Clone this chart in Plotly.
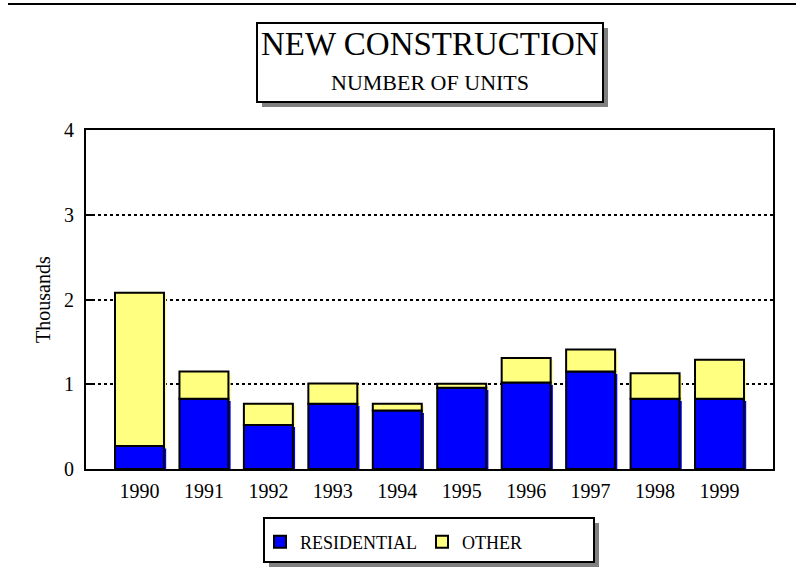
import plotly.graph_objects as go

years = ['1990', '1991', '1992', '1993', '1994', '1995', '1996', '1997', '1998', '1999']
residential = [0.27, 0.83, 0.52, 0.77, 0.69, 0.96, 1.02, 1.15, 0.83, 0.83]
other = [1.81, 0.32, 0.25, 0.24, 0.08, 0.045, 0.29, 0.26, 0.30, 0.46]
y_ticks = [0, 1, 2, 3, 4]

BLUE = '#0000ff'
YELLOW = '#ffff80'
FONT = 'Liberation Serif, Times New Roman, serif'

# plot area in pixels, used to place the boxes around the chart
L, R, T, B = 86, 773, 130, 469


def px_x(x):
    return (x - L) / (R - L)


def px_y(y):
    return (B - y) / (B - T)


fig = go.Figure()

# fill layer shifted a little right/down, gives the offset look of the old chart
shift = 2.2 / 64.5
fig.add_bar(x=years, y=residential, base=[-0.025] * len(years), offset=-0.38 + shift, width=0.76,
            marker=dict(color=BLUE, line=dict(width=0)), showlegend=False, hoverinfo='skip')
fig.add_bar(x=years, y=other, base=[r - 0.025 for r in residential], offset=-0.38 + shift, width=0.76,
            marker=dict(color=YELLOW, line=dict(width=0)), showlegend=False, hoverinfo='skip')

fig.add_bar(x=years, y=residential, base=[0] * len(years), offset=-0.38, width=0.76, name='RESIDENTIAL',
            marker=dict(color=BLUE, line=dict(color='black', width=2)))
fig.add_bar(x=years, y=other, base=residential, offset=-0.38, width=0.76, name='OTHER',
            marker=dict(color=YELLOW, line=dict(color='black', width=2)))

fig.update_layout(
    width=796, height=576,
    margin=dict(l=L, r=796 - R, t=T, b=576 - B, pad=0),
    barmode='overlay',
    paper_bgcolor='white',
    plot_bgcolor='white',
    font=dict(family=FONT, size=20, color='black'),
    legend=dict(orientation='h', x=px_x(260), y=px_y(542), xanchor='left', yanchor='middle',
                bgcolor='rgba(0,0,0,0)', font=dict(size=18), traceorder='normal'),
    showlegend=True,
)

fig.update_xaxes(type='category', range=[-0.83, 9.83], showline=True, mirror=True, linecolor='black',
                 linewidth=2, ticks='', showgrid=False, ticklabelstandoff=3, fixedrange=True)
fig.update_yaxes(range=[0, 4], tickvals=y_ticks, showline=True, mirror=True, linecolor='black', linewidth=2,
                 ticks='inside', ticklen=6, tickwidth=2, tickcolor='black', showgrid=True, gridcolor='black',
                 gridwidth=2, griddash='dot', zeroline=False, ticklabelstandoff=6, fixedrange=True)

shapes = [
    # rule across the top of the page
    dict(type='line', x0=px_x(8), x1=px_x(796), y0=px_y(4), y1=px_y(4), line=dict(color='black', width=2)),
    # title box with shadow
    dict(type='rect', x0=px_x(262), x1=px_x(608), y0=px_y(28), y1=px_y(107), fillcolor='#808080', line=dict(width=0)),
    dict(type='rect', x0=px_x(257), x1=px_x(603), y0=px_y(23), y1=px_y(102), fillcolor='white',
         line=dict(color='black', width=2)),
    # legend box with shadow
    dict(type='rect', x0=px_x(269), x1=px_x(599), y0=px_y(523), y1=px_y(567), fillcolor='#808080', line=dict(width=0)),
    dict(type='rect', x0=px_x(264), x1=px_x(594), y0=px_y(518), y1=px_y(562), fillcolor='white',
         line=dict(color='black', width=2)),
]
for s in shapes:
    s.update(xref='paper', yref='paper', layer='below')
fig.update_layout(shapes=shapes)

fig.add_annotation(text='NEW CONSTRUCTION', xref='paper', yref='paper', x=px_x(430), y=px_y(44),
                   showarrow=False, font=dict(size=33), xanchor='center', yanchor='middle')
fig.add_annotation(text='NUMBER OF UNITS', xref='paper', yref='paper', x=px_x(430), y=px_y(83),
                   showarrow=False, font=dict(size=22), xanchor='center', yanchor='middle')
fig.add_annotation(text='Thousands', xref='paper', yref='paper', x=px_x(43), y=px_y(300), textangle=-90,
                   showarrow=False, font=dict(size=20), xanchor='center', yanchor='middle')

# page body has a default margin, drop it so the figure sits at the window corner
fig.write_html('out.html', config={'displayModeBar': False},
               post_script="document.body.style.margin='0';")
